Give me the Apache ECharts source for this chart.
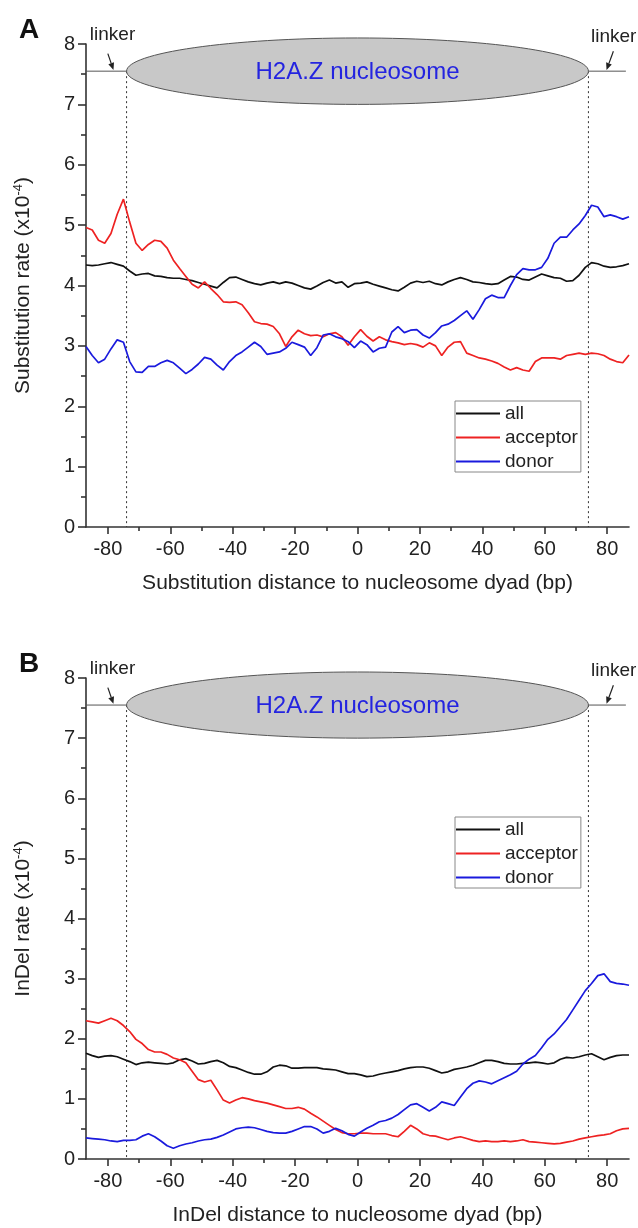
<!DOCTYPE html>
<html>
<head>
<meta charset="utf-8">
<script src="https://cdn.jsdelivr.net/npm/echarts@6/dist/echarts.min.js"></script>
<style>
	html,body{margin:0;padding:0;background:#fff}
	#main{width:638px;height:1228px}
</style>
</head>
<body>
<div id="main"></div>
<script>
// distance to dyad (bp)
var xs = [-87,-85,-83,-81,-79,-77,-75,-73,-71,-69,-67,-65,-63,-61,-59,-57,-55,-53,-51,-49,-47,-45,-43,-41,-39,-37,-35,-33,-31,-29,-27,-25,-23,-21,-19,-17,-15,-13,-11,-9,-7,-5,-3,-1,
	1,3,5,7,9,11,13,15,17,19,21,23,25,27,29,31,33,35,37,39,41,43,45,47,49,51,53,55,57,59,61,63,65,67,69,71,73,75,77,79,81,83,85,87];

// panel A, substitution rate (x10^-4)
var subAll = [4.34,4.33,4.34,4.36,4.38,4.35,4.32,4.24,4.17,4.19,4.2,4.16,4.15,4.13,4.12,4.12,4.1,4.08,4.05,4.02,3.99,3.96,4.05,4.13,4.14,4.1,4.06,4.03,4.01,4.04,4.06,4.03,4.06,4.04,4.0,3.96,3.94,3.99,4.05,4.09,4.04,4.06,3.97,4.03,
	4.04,4.06,4.02,3.99,3.96,3.93,3.91,3.97,4.04,4.07,4.05,4.07,4.03,4.01,4.06,4.1,4.13,4.1,4.06,4.05,4.03,4.02,4.03,4.09,4.15,4.14,4.1,4.09,4.14,4.19,4.16,4.13,4.12,4.07,4.08,4.17,4.3,4.38,4.36,4.32,4.3,4.31,4.33,4.36];
var subAcc = [4.96,4.92,4.75,4.7,4.86,5.18,5.43,5.05,4.7,4.58,4.68,4.75,4.73,4.62,4.42,4.28,4.15,4.02,3.96,4.06,3.95,3.85,3.73,3.72,3.73,3.68,3.55,3.4,3.37,3.36,3.32,3.2,2.99,3.15,3.26,3.2,3.17,3.18,3.15,3.2,3.22,3.15,3.01,3.15,
	3.27,3.16,3.08,3.15,3.1,3.07,3.05,3.02,3.04,3.02,2.98,3.05,3.0,2.84,2.98,3.06,3.07,2.88,2.84,2.8,2.78,2.75,2.71,2.65,2.6,2.64,2.6,2.58,2.74,2.8,2.8,2.8,2.78,2.84,2.86,2.88,2.86,2.88,2.87,2.84,2.78,2.74,2.72,2.85];
var subDon = [2.99,2.84,2.72,2.78,2.95,3.1,3.06,2.74,2.57,2.56,2.66,2.66,2.72,2.76,2.72,2.63,2.54,2.61,2.7,2.81,2.78,2.68,2.6,2.74,2.84,2.9,2.98,3.06,2.99,2.86,2.88,2.9,2.96,3.06,3.02,2.98,2.84,2.97,3.18,3.2,3.15,3.12,3.07,2.97,
	3.08,3.02,2.9,2.96,2.98,3.23,3.32,3.22,3.26,3.27,3.18,3.13,3.22,3.33,3.36,3.42,3.5,3.58,3.44,3.6,3.78,3.84,3.8,3.8,4.0,4.18,4.28,4.26,4.26,4.3,4.45,4.7,4.8,4.8,4.92,5.02,5.16,5.33,5.3,5.14,5.17,5.14,5.1,5.14];

// panel B, InDel rate (x10^-4)
var indAll = [1.76,1.72,1.69,1.71,1.72,1.7,1.66,1.62,1.57,1.6,1.61,1.6,1.59,1.58,1.6,1.65,1.67,1.63,1.58,1.59,1.62,1.64,1.6,1.54,1.52,1.48,1.44,1.41,1.41,1.45,1.53,1.56,1.55,1.51,1.51,1.52,1.52,1.52,1.5,1.49,1.48,1.45,1.42,1.42,
	1.4,1.37,1.38,1.41,1.43,1.45,1.47,1.5,1.52,1.53,1.53,1.51,1.47,1.43,1.45,1.49,1.51,1.53,1.56,1.6,1.64,1.64,1.62,1.59,1.58,1.58,1.59,1.6,1.61,1.6,1.58,1.6,1.66,1.69,1.68,1.7,1.73,1.75,1.7,1.65,1.69,1.72,1.73,1.73];
var indAcc = [2.3,2.28,2.26,2.3,2.34,2.3,2.22,2.12,1.99,1.92,1.82,1.78,1.78,1.74,1.68,1.65,1.6,1.46,1.32,1.28,1.31,1.15,0.98,0.93,0.98,1.02,1.0,0.97,0.95,0.93,0.9,0.87,0.84,0.84,0.86,0.83,0.76,0.7,0.63,0.56,0.49,0.44,0.42,0.42,
	0.43,0.43,0.42,0.42,0.42,0.39,0.37,0.46,0.56,0.5,0.42,0.39,0.38,0.35,0.32,0.35,0.37,0.34,0.31,0.29,0.3,0.29,0.29,0.3,0.29,0.3,0.32,0.29,0.28,0.27,0.26,0.25,0.26,0.28,0.3,0.33,0.35,0.37,0.39,0.4,0.42,0.47,0.5,0.51];
var indDon = [0.35,0.34,0.33,0.32,0.3,0.29,0.31,0.31,0.32,0.38,0.42,0.37,0.3,0.22,0.18,0.22,0.25,0.27,0.3,0.32,0.33,0.36,0.4,0.45,0.5,0.52,0.53,0.52,0.49,0.46,0.44,0.43,0.43,0.46,0.5,0.54,0.54,0.5,0.43,0.46,0.51,0.47,0.41,0.38,
	0.45,0.51,0.56,0.62,0.64,0.68,0.74,0.82,0.9,0.92,0.86,0.8,0.86,0.95,0.92,0.89,1.03,1.17,1.26,1.3,1.28,1.25,1.3,1.35,1.4,1.46,1.58,1.66,1.72,1.85,1.99,2.08,2.2,2.32,2.48,2.64,2.8,2.92,3.05,3.08,2.95,2.92,2.91,2.89];

var xTicks = [-80,-60,-40,-20,0,20,40,60,80];
var xMinorTicks = [-70,-50,-30,-10,10,30,50,70];
var names = ['all','acceptor','donor'];
var colors = ['#111111','#ee2222','#1a1add'];

// nucleosome sketch, in data units
var nucEdge = [-74, 74];
var linkerY = 7.55;
var nucHalfH = 0.55;
var linkerLeft = [-87, -74];
var linkerRight = [74, 86];
var arrowLeft = [[-80.0, 7.84], [-78.2, 7.57]];
var arrowRight = [[82.0, 7.88], [79.8, 7.57]];
var linkerTextPos = [[-78.5, 8.15], [82.1, 8.12]];

var FONT = '"Liberation Sans", Arial, sans-serif';

function pairs(v){
	return xs.map(function(x,i){ return [x, v[i]]; });
}

function arrowShape(api, a){
	var p0 = api.coord(a[0]), p1 = api.coord(a[1]);
	var dx = p1[0]-p0[0], dy = p1[1]-p0[1];
	var len = Math.sqrt(dx*dx+dy*dy);
	var ux = dx/len, uy = dy/len;
	var hl = 7, hw = 3;
	var bx = p1[0]-ux*hl, by = p1[1]-uy*hl;
	return [
		{type:'line', shape:{x1:p0[0],y1:p0[1],x2:bx,y2:by}, style:{stroke:'#222',lineWidth:1.2}},
		{type:'polygon', shape:{points:[[p1[0],p1[1]],[bx-uy*hw,by+ux*hw],[bx+uy*hw,by-ux*hw]]}, style:{fill:'#222'}}
	];
}

function renderNuc(params, api){
	var c = api.coord([(nucEdge[0]+nucEdge[1])/2, linkerY]);
	var l = api.coord([nucEdge[0], linkerY]);
	var r = api.coord([nucEdge[1], linkerY]);
	var top = api.coord([0, linkerY + nucHalfH]);
	var base = api.coord([0, 0]);
	var ll0 = api.coord([linkerLeft[0], linkerY]), ll1 = api.coord([linkerLeft[1], linkerY]);
	var lr0 = api.coord([linkerRight[0], linkerY]), lr1 = api.coord([linkerRight[1], linkerY]);
	var t0 = api.coord(linkerTextPos[0]), t1 = api.coord(linkerTextPos[1]);
	var kids = [
		{type:'line', shape:{x1:l[0],y1:l[1],x2:l[0],y2:base[1]}, style:{stroke:'#333',lineWidth:1,lineDash:[2,3]}},
		{type:'line', shape:{x1:r[0],y1:r[1],x2:r[0],y2:base[1]}, style:{stroke:'#333',lineWidth:1,lineDash:[2,3]}},
		{type:'line', shape:{x1:ll0[0],y1:ll0[1],x2:ll1[0],y2:ll1[1]}, style:{stroke:'#555',lineWidth:1}},
		{type:'line', shape:{x1:lr0[0],y1:lr0[1],x2:lr1[0],y2:lr1[1]}, style:{stroke:'#555',lineWidth:1}},
		{type:'ellipse', shape:{cx:c[0],cy:c[1],rx:(r[0]-l[0])/2,ry:c[1]-top[1]}, style:{fill:'#c8c8c8',stroke:'#555',lineWidth:1}},
		{type:'text', style:{text:'H2A.Z nucleosome', x:c[0], y:c[1]+1, fill:'#2424e0', font:'24px '+FONT, align:'center', verticalAlign:'middle'}},
		{type:'text', style:{text:'linker', x:t0[0], y:t0[1], fill:'#222', font:'19px '+FONT, align:'center', verticalAlign:'middle'}},
		{type:'text', style:{text:'linker', x:t1[0], y:t1[1], fill:'#222', font:'19px '+FONT, align:'center', verticalAlign:'middle'}}
	];
	kids = kids.concat(arrowShape(api, arrowLeft), arrowShape(api, arrowRight));
	return {type:'group', children:kids};
}

function xAxes(gi, title){
	return [{
		type:'value', gridIndex:gi, min:-87, max:87, position:'bottom',
		name:title, nameLocation:'middle', nameGap:46,
		nameTextStyle:{fontSize:21, color:'#222', fontFamily:FONT},
		axisLine:{show:true, onZero:false, lineStyle:{color:'#333', width:1.6}},
		axisTick:{show:true, length:7, customValues:xTicks, lineStyle:{color:'#333', width:1.6}},
		axisLabel:{customValues:xTicks, fontSize:20, margin:12, color:'#222', fontFamily:FONT},
		splitLine:{show:false}
	},{
		type:'value', gridIndex:gi, min:-87, max:87, position:'bottom',
		axisLine:{show:false, onZero:false},
		axisTick:{show:true, length:4, customValues:xMinorTicks, lineStyle:{color:'#333', width:1.6}},
		axisLabel:{show:false},
		splitLine:{show:false}
	}];
}

function yAxis(gi, title){
	return {
		type:'value', gridIndex:gi, min:0, max:8, interval:1, position:'left',
		name:title, nameLocation:'middle', nameGap:52,
		nameTextStyle:{fontSize:21, color:'#222', fontFamily:FONT,
			rich:{sup:{fontSize:13, color:'#222', fontFamily:FONT, verticalAlign:'bottom', padding:[0,0,9,0]}}},
		axisLine:{show:true, onZero:false, lineStyle:{color:'#333', width:1.6}},
		axisTick:{show:true, length:8, lineStyle:{color:'#333', width:1.6}},
		minorTick:{show:true, splitNumber:2, length:5, lineStyle:{color:'#333', width:1.6}},
		axisLabel:{fontSize:20, margin:11, color:'#222', fontFamily:FONT},
		splitLine:{show:false}
	};
}

function legendAt(top){
	return {
		orient:'vertical', left:455, top:top, data:names,
		icon:'rect', itemWidth:44, itemHeight:2, itemGap:5,
		padding:[3,3,1,1], borderColor:'#888', borderWidth:1,
		selectedMode:false,
		textStyle:{fontSize:19, color:'#222', fontFamily:FONT, padding:[0,0,0,0]}
	};
}

var panels = [[subAll, subAcc, subDon], [indAll, indAcc, indDon]];
var series = [];
panels.forEach(function(p, gi){
	p.forEach(function(v, k){
		series.push({
			name:names[k], type:'line', xAxisIndex:gi*2, yAxisIndex:gi,
			data:pairs(v), showSymbol:false, symbol:'none',
			lineStyle:{color:colors[k], width:1.7}, itemStyle:{color:colors[k]},
			z:3
		});
	});
	series.push({
		type:'custom', xAxisIndex:gi*2, yAxisIndex:gi, clip:false,
		data:[[0, linkerY]], renderItem:renderNuc, z:2, silent:true
	});
});

var myChart = echarts.init(document.getElementById('main'), null, {renderer:'canvas'});
myChart.setOption({
	animation:false,
	backgroundColor:'#fff',
	textStyle:{fontFamily:FONT},
	title:[
		{text:'A', left:14, top:11, textStyle:{fontSize:28, fontWeight:'bold', color:'#111', fontFamily:FONT}},
		{text:'B', left:14, top:645, textStyle:{fontSize:28, fontWeight:'bold', color:'#111', fontFamily:FONT}}
	],
	grid:[
		{left:86, top:44, width:543, height:483},
		{left:86, top:678, width:543, height:481}
	],
	legend:[legendAt(401), legendAt(817)],
	xAxis:xAxes(0, 'Substitution distance to nucleosome dyad (bp)').concat(xAxes(1, 'InDel distance to nucleosome dyad (bp)')),
	yAxis:[yAxis(0, 'Substitution rate (x10{sup|-4})'), yAxis(1, 'InDel rate (x10{sup|-4})')],
	series:series
});
</script>
</body>
</html>
